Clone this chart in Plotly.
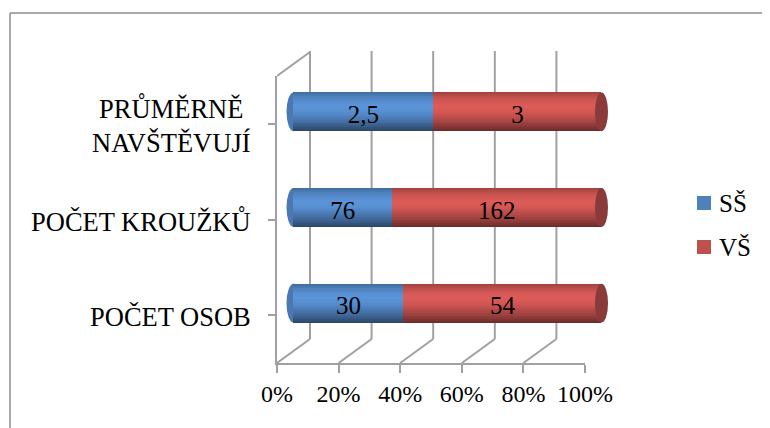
import plotly.graph_objects as go

# ---- data ----
categories = ["POČET OSOB", "POČET KROUŽKŮ", "PRŮMĚRNĚ<br>NAVŠTĚVUJÍ"]
series_names = ["SŠ", "VŠ"]
ss_values = [30, 76, 2.5]
vs_values = [54, 162, 3]
x_tick_vals = [0, 0.2, 0.4, 0.6, 0.8, 1.0]

W, H = 770, 428
OFF = 8   # page body margin
FONT = "Liberation Serif, Times New Roman, serif"

def px(x):
    return (x - OFF) / W

def py(y):
    return (H - (y - OFF)) / H

# geometry (screen pixels)
front_x0, front_x1 = 277, 585
dx, dy = 33, -24          # depth offset of back wall
front_top, front_bot = 76, 363
bar_half = 0.203
pad = 5                   # extra range on bar axis so cylinder ends are not clipped
ppu = (front_x1 - front_x0) / 100.0

fig = go.Figure()

totals = [a + b for a, b in zip(ss_values, vs_values)]
ss_pct = [a / t * 100 for a, t in zip(ss_values, totals)]
vs_pct = [b / t * 100 for b, t in zip(vs_values, totals)]
ypos = list(range(len(categories)))

base_colors = {"SŠ": (79, 129, 189), "VŠ": (192, 80, 77)}
# cylinder shading, top band first
shade = [0.86, 0.94, 1.00, 1.05, 1.09, 1.12, 1.14, 1.14, 1.13, 1.11, 1.08, 1.04,
         0.99, 0.94, 0.89, 0.84, 0.78, 0.72, 0.65, 0.58]
nb = len(shade)
bw = 2 * bar_half / nb

def col(rgb, f):
    r, g, b = [max(0, min(255, int(c * f))) for c in rgb]
    return f"rgb({r},{g},{b})"

for name, pct, base in [("SŠ", ss_pct, [0] * 3), ("VŠ", vs_pct, ss_pct)]:
    for k in range(nb):
        f = shade[nb - 1 - k]   # k=0 is bottom band
        fig.add_trace(go.Bar(
            y=ypos, x=pct, base=base, orientation="h",
            width=bw * 1.05, offset=-bar_half + k * bw,
            marker=dict(color=col(base_colors[name], f), line=dict(width=0)),
            xaxis="x3", yaxis="y2", showlegend=False, hoverinfo="skip",
        ))

# value labels
for vals, pct, base in [(ss_values, ss_pct, [0] * 3), (vs_values, vs_pct, ss_pct)]:
    fig.add_trace(go.Scatter(
        x=[b + p / 2 for b, p in zip(base, pct)], y=[p - 0.05 for p in ypos],
        mode="text", text=[str(v).replace(".", ",") for v in vals],
        textfont=dict(family=FONT, size=25, color="black"),
        xaxis="x3", yaxis="y2", showlegend=False, hoverinfo="skip",
    ))

shapes = []
annotations = []
grid = dict(color="#a0a0a0", width=2)
for v in x_tick_vals:
    shapes.append(dict(type="line", xref="x", yref="paper", xsizemode="pixel", xanchor=v,
                       x0=dx, x1=dx, y0=py(front_bot + dy), y1=py(front_top + dy - 1), line=grid, layer="below"))
    shapes.append(dict(type="line", xref="x", yref="paper", xsizemode="pixel", xanchor=v,
                       x0=0, x1=dx, y0=py(front_bot), y1=py(front_bot + dy), line=grid, layer="below"))
shapes.append(dict(type="line", xref="x", yref="paper", xsizemode="pixel", xanchor=0,
                   x0=0, x1=dx, y0=py(front_top), y1=py(front_top + dy), line=grid, layer="below"))

# cylinder ends
for i in ypos:
    shapes.append(dict(type="circle", xref="x3", yref="y2", xsizemode="pixel", xanchor=0,
                       x0=-7, x1=7, y0=i - bar_half, y1=i + bar_half,
                       fillcolor="rgb(74,120,180)", line=dict(width=0), layer="below"))
    shapes.append(dict(type="circle", xref="x3", yref="y2", xsizemode="pixel", xanchor=100,
                       x0=-6.5, x1=6.5, y0=i - bar_half, y1=i + bar_half,
                       fillcolor="rgb(138,58,56)", line=dict(width=0), layer="above"))

# outer border
border = dict(color="#8c8c8c", width=1.5)
shapes.append(dict(type="line", xref="paper", yref="paper", x0=px(10), x1=1, y0=py(13), y1=py(13), line=border))
shapes.append(dict(type="line", xref="paper", yref="paper", x0=px(10), x1=px(10), y0=0, y1=py(13), line=border))

# category labels (right aligned, multi-line centred)
for i, cat in enumerate(categories):
    annotations.append(dict(xref="paper", yref="y", x=px(253), y=i, xanchor="right",
                            yanchor="middle", align="center", text=cat, showarrow=False,
                            yshift=-2, font=dict(family=FONT, size=26.5, color="black")))

# legend (drawn manually so it does not push margins)
leg_x, leg_y0, leg_step = 697, 203, 44
for j, name in enumerate(series_names):
    cy = leg_y0 + j * leg_step
    shapes.append(dict(type="rect", xref="paper", yref="paper",
                       x0=px(leg_x), x1=px(leg_x + 14), y0=py(cy + 7), y1=py(cy - 7),
                       fillcolor=col(base_colors[name], 1.0), line=dict(width=0)))
    annotations.append(dict(xref="paper", yref="paper", x=px(leg_x + 20), y=py(cy),
                            xanchor="left", yanchor="middle", text=name, showarrow=False,
                            font=dict(family=FONT, size=25, color="black")))

fig.update_layout(
    width=W, height=H,
    margin=dict(l=0, r=0, t=0, b=0, autoexpand=False),
    paper_bgcolor="white", plot_bgcolor="rgba(0,0,0,0)",
    barmode="overlay", bargap=0,
    separators=", ",
    font=dict(family=FONT, size=24, color="black"),
    shapes=shapes, annotations=annotations,
    showlegend=False,
    xaxis=dict(domain=[px(front_x0), px(front_x1)], range=[0, 1], anchor="y",
               tickvals=x_tick_vals, tickformat=".0%", showgrid=False, zeroline=False,
               showline=True, linecolor="#a0a0a0", linewidth=2,
               ticks="outside", ticklen=8, tickwidth=2, tickcolor="#a0a0a0",
               tickfont=dict(size=24), automargin=False, fixedrange=True),
    yaxis=dict(domain=[py(front_bot), py(front_top)], range=[-0.5, 2.5], anchor="x",
               tickmode="array", tickvals=ypos, ticktext=["" for _ in categories], tickson="boundaries",
               showgrid=False, zeroline=False, showline=True, linecolor="#a0a0a0", linewidth=2,
               ticks="outside", ticklen=7, tickwidth=2, tickcolor="#a0a0a0",
               automargin=False, fixedrange=True),
    xaxis3=dict(domain=[px(front_x0 + dx / 2 - pad * ppu), px(front_x1 + dx / 2 + pad * ppu)],
                range=[-pad, 100 + pad],
                anchor="y2", visible=False, automargin=False, fixedrange=True),
    yaxis2=dict(domain=[py(front_bot + dy / 2), py(front_top + dy / 2)], range=[-0.5, 2.5],
                anchor="x3", visible=False, automargin=False, fixedrange=True),
)

fig.write_html("out.html")
